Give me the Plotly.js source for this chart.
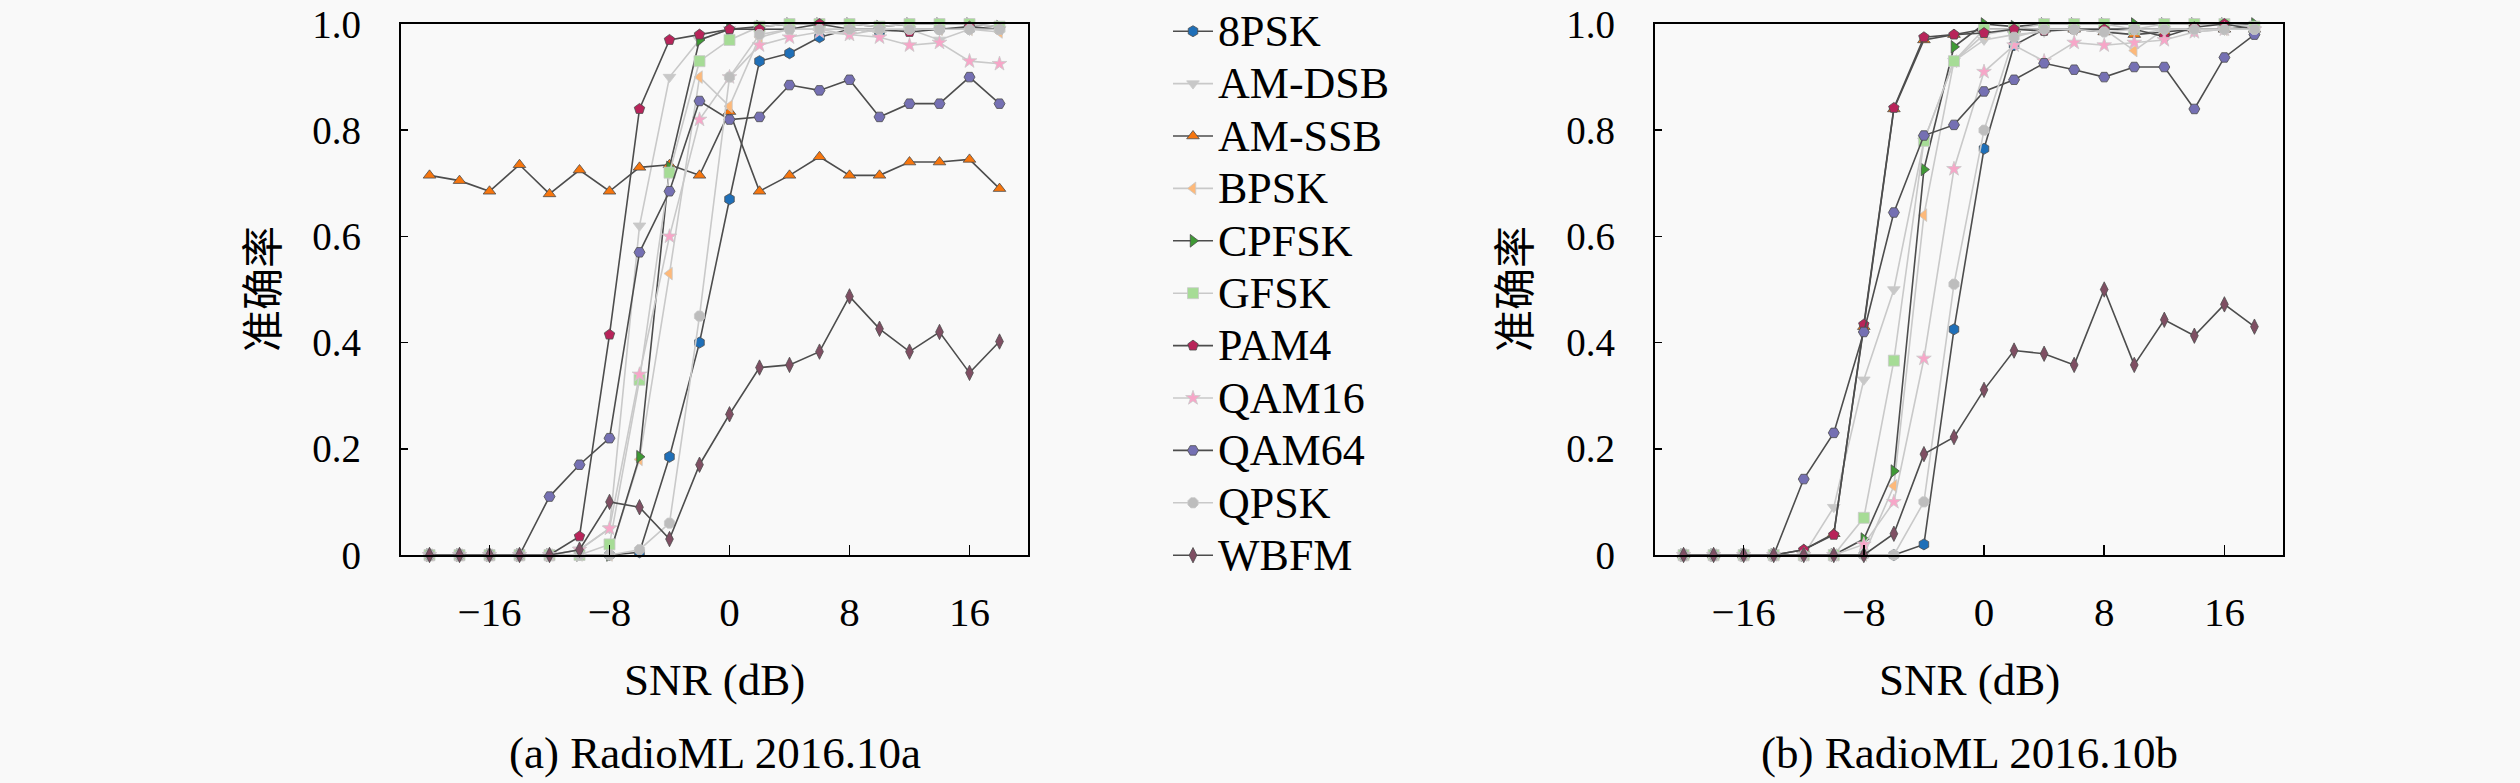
<!DOCTYPE html>
<html><head><meta charset="utf-8">
<script src="https://cdn.plot.ly/plotly-3.0.1.min.js"></script>
<style>html,body{margin:0;padding:0;background:#f9f9f9;}#chart{width:2520px;height:783px;}</style>
</head><body><div id="chart"></div>
<script>
// SNR (dB)
const snr = [-20,-18,-16,-14,-12,-10,-8,-6,-4,-2,0,2,4,6,8,10,12,14,16,18];
const xTicks = [-16,-8,0,8,16];
const yTicks = [0,0.2,0.4,0.6,0.8,1.0];
const yTickText = ["0","0.2","0.4","0.6","0.8","1.0"];
const classes = ["8PSK","AM-DSB","AM-SSB","BPSK","CPFSK","GFSK","PAM4","QAM16","QAM64","QPSK","WBFM"];

// (a) RadioML 2016.10a
const a_8PSK  = [0,0,0,0,0,0,0,0.005,0.185,0.40,0.67,0.93,0.945,0.975,0.99,0.985,0.99,0.99,0.99,0.99];
const a_AMDSB = [0,0,0,0,0,0.01,0.05,0.62,0.90,0.97,0.99,0.99,0.99,0.99,0.98,0.99,0.99,0.97,0.99,0.99];
const a_AMSSB = [0.715,0.705,0.685,0.735,0.68,0.725,0.685,0.73,0.735,0.715,0.835,0.685,0.715,0.75,0.715,0.715,0.74,0.74,0.745,0.69];
const a_BPSK  = [0,0,0,0,0,0,0,0.18,0.53,0.90,0.845,0.975,0.99,0.99,0.99,0.985,0.99,0.99,0.99,0.985];
const a_CPFSK = [0,0,0,0,0,0,0,0.185,0.73,0.97,0.99,0.995,1,1,1,0.995,1,1,1,0.995];
const a_GFSK  = [0,0,0,0,0,0,0.02,0.33,0.72,0.93,0.97,0.995,1,1,1,0.995,1,1,1,0.995];
const a_PAM4  = [0,0,0,0,0,0.035,0.415,0.84,0.97,0.98,0.99,0.99,0.99,1.0,0.99,0.99,0.985,0.99,0.995,0.99];
const a_QAM16 = [0,0,0,0,0,0.01,0.05,0.34,0.60,0.82,0.90,0.96,0.975,0.985,0.98,0.975,0.96,0.965,0.93,0.925];
const a_QAM64 = [0,0,0,0,0.11,0.17,0.22,0.57,0.685,0.855,0.82,0.825,0.885,0.875,0.895,0.825,0.85,0.85,0.90,0.85];
const a_QPSK  = [0,0,0,0,0,0,0,0.01,0.06,0.45,0.90,0.98,0.99,0.99,0.99,0.99,0.99,0.99,0.99,0.99];
const a_WBFM  = [0,0,0,0,0,0.01,0.10,0.09,0.03,0.17,0.265,0.353,0.358,0.383,0.487,0.426,0.383,0.42,0.343,0.402];

// (b) RadioML 2016.10b
const b_8PSK  = [0,0,0,0,0,0,0,0,0.02,0.425,0.765,0.96,0.99,0.99,0.99,0.99,0.99,0.99,0.99,0.995];
const b_AMDSB = [0,0,0,0,0,0.09,0.33,0.50,0.78,0.93,0.97,0.98,0.985,0.99,0.985,0.98,0.99,0.985,0.99,0.99];
const b_AMSSB = [0,0,0,0,0.01,0.04,0.43,0.84,0.97,0.98,0.99,0.99,0.99,0.99,0.985,0.98,0.985,0.99,0.99,0.99];
const b_BPSK  = [0,0,0,0,0,0,0,0.13,0.64,0.93,0.98,0.99,0.99,0.99,0.99,0.95,0.99,0.99,0.99,0.99];
const b_CPFSK = [0,0,0,0,0,0,0.03,0.158,0.726,0.957,1.0,0.995,1.0,1.0,1.0,1.0,1.0,1.0,1.0,1.0];
const b_GFSK  = [0,0,0,0,0,0,0.07,0.366,0.78,0.93,0.99,0.99,1.0,1.0,1.0,0.99,1.0,1.0,1.0,0.995];
const b_PAM4  = [0,0,0,0,0.01,0.038,0.434,0.842,0.975,0.98,0.983,0.99,0.987,0.99,0.99,0.99,0.976,0.994,1.0,0.99];
const b_QAM16 = [0,0,0,0,0,0,0.02,0.10,0.37,0.727,0.91,0.96,0.93,0.965,0.96,0.965,0.97,0.985,0.99,0.99];
const b_QAM64 = [0,0,0,0,0.143,0.23,0.42,0.645,0.79,0.81,0.873,0.895,0.926,0.914,0.90,0.919,0.919,0.84,0.937,0.98];
const b_QPSK  = [0,0,0,0,0,0,0,0,0.10,0.51,0.80,0.975,0.99,0.99,0.985,0.99,0.99,0.99,0.99,0.99];
const b_WBFM  = [0,0,0,0,0,0,0,0.04,0.19,0.222,0.311,0.385,0.379,0.358,0.50,0.358,0.443,0.413,0.472,0.43];

const dataA = [a_8PSK,a_AMDSB,a_AMSSB,a_BPSK,a_CPFSK,a_GFSK,a_PAM4,a_QAM16,a_QAM64,a_QPSK,a_WBFM];
const dataB = [b_8PSK,b_AMDSB,b_AMSSB,b_BPSK,b_CPFSK,b_GFSK,b_PAM4,b_QAM16,b_QAM64,b_QPSK,b_WBFM];

const faceColors = ["#1f6fb8","#c8c8c8","#f7760e","#fdb97a","#3f9a35","#a6dc96","#b8245a","#f7a6c8","#7570b3","#bdbdbd","#7f4f63"];
const symbols = ["hexagon","triangle-down","triangle-up","triangle-left","triangle-right","square","pentagon","star","hexagon2","octagon","diamond-tall"];
const DARK = "#4d4d4d", LIGHT = "#c9c9c9";
const lineColors = classes.map((c,i)=> i%2===0 ? DARK : LIGHT);

const legendFontPx = 44;
const traces = [];
function addPanel(data, xa, ya, showLeg){
  data.forEach((vals,i)=>{
    traces.push({
      x: snr, y: vals, xaxis: xa, yaxis: ya, type: "scatter", mode: "lines+markers",
      name: '<span style="font-size:' + legendFontPx + 'px">' + classes[i] + '</span>',
      legendgroup: classes[i], showlegend: showLeg, cliponaxis: false,
      line: {color: lineColors[i], width: 1.6},
      marker: {symbol: symbols[i], size: 11, color: faceColors[i], line: {color: lineColors[i], width: 0.8}}
    });
  });
}
addPanel(dataA, "x", "y", true);
addPanel(dataB, "x2", "y2", false);

const W = 2520, H = 783;
const fontFam = "Liberation Serif, serif";
const cjk = "Noto Sans CJK SC, sans-serif";
const yDom = [1-555/H, 1-24/H];
function xAxis(dom){
  return {domain: dom, range: [-21.9,19.9], tickvals: xTicks, ticks: "inside", ticklen: 10, tickwidth: 1.5,
    tickcolor: "#000", showline: true, linecolor: "#000", linewidth: 2.2, mirror: true, showgrid: false,
    zeroline: false, tickfont: {family: fontFam, size: 41, color: "#000"}, ticklabelstandoff: 20, automargin: false};
}
function yAxis(anchor){
  return {domain: yDom, anchor: anchor, range: [0,1], tickvals: yTicks, ticktext: yTickText, ticks: "inside", ticklen: 7,
    tickwidth: 1.5, tickcolor: "#000", showline: true, linecolor: "#000", linewidth: 2.2, mirror: true,
    showgrid: false, zeroline: false, tickfont: {family: fontFam, size: 39, color: "#000"},
    ticklabelstandoff: 30, ticklabeloverflow: "allow", automargin: false};
}
const annFont = {family: fontFam, size: 45, color: "#000"};
const layout = {
  width: W, height: H, margin: {l:0, r:0, t:0, b:0, autoexpand: false},
  paper_bgcolor: "#f9f9f9", plot_bgcolor: "#f9f9f9", showlegend: true,
  xaxis: Object.assign(xAxis([401/W, 1028/W]), {anchor: "y"}),
  yaxis: yAxis("x"),
  xaxis2: Object.assign(xAxis([1655/W, 2283/W]), {anchor: "y2"}),
  yaxis2: yAxis("x2"),
  legend: {x: 1168/W, y: 1, xanchor: "left", yanchor: "top", bgcolor: "rgba(0,0,0,0)",
    font: {family: fontFam, size: 38, color: "#000"}, tracegroupgap: 0, itemwidth: 40},
  annotations: [
    {xref:"paper", yref:"paper", x: 260/W, y: 1-289/H, text: "准确率", textangle: -90, showarrow: false,
      font: {family: cjk, size: 42, color: "#000"}, xanchor: "center", yanchor: "middle"},
    {xref:"paper", yref:"paper", x: 1512/W, y: 1-289/H, text: "准确率", textangle: -90, showarrow: false,
      font: {family: cjk, size: 42, color: "#000"}, xanchor: "center", yanchor: "middle"},
    {xref:"paper", yref:"paper", x: 714/W, y: 1-680/H, text: "SNR (dB)", showarrow: false, font: annFont, xanchor: "center", yanchor: "middle"},
    {xref:"paper", yref:"paper", x: 1969/W, y: 1-680/H, text: "SNR (dB)", showarrow: false, font: annFont, xanchor: "center", yanchor: "middle"},
    {xref:"paper", yref:"paper", x: 715/W, y: 1-753/H, text: "(a) RadioML 2016.10a", showarrow: false, font: annFont, xanchor: "center", yanchor: "middle"},
    {xref:"paper", yref:"paper", x: 1969/W, y: 1-753/H, text: "(b) RadioML 2016.10b", showarrow: false, font: annFont, xanchor: "center", yanchor: "middle"}
  ]
};
Plotly.newPlot("chart", traces, layout, {displayModeBar: false, staticPlot: true});
</script></body></html>
